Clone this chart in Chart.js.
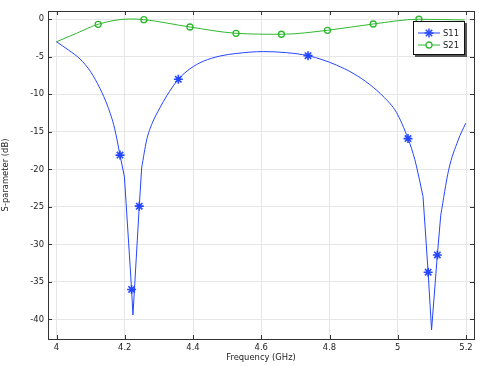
<!DOCTYPE html>
<html>
<head>
<meta charset="utf-8">
<script src="https://cdn.jsdelivr.net/npm/chart.js@4"></script>
<style>
  html, body { margin: 0; padding: 0; background: #fff; }
  #wrap { position: relative; width: 479px; height: 366px; }
  #legend {
    position: absolute; left: 413px; top: 21px; width: 50px; height: 32px;
    border: 1px solid #111; background: #fff; box-shadow: 2px 2px 0 #555;
    font-family: "DejaVu Sans", sans-serif; font-size: 8.4px; color: #222;
  }
  .item { position: absolute; left: 4px; height: 10px; display: flex; align-items: center; }
  .item span { margin-left: 3px; }
</style>
</head>
<body>
<div id="wrap">
  <canvas id="c" width="479" height="366"></canvas>
  <div id="legend">
    <div class="item" style="top:6px">
      <svg width="22" height="10"><line x1="0" y1="5" x2="22" y2="5" stroke="#2546ff" stroke-width="1"/>
        <g stroke="#2546ff" stroke-width="1.5"><line x1="11" y1="0.5" x2="11" y2="9.5"/><line x1="6.5" y1="5" x2="15.5" y2="5"/><line x1="7.8" y1="1.8" x2="14.2" y2="8.2"/><line x1="7.8" y1="8.2" x2="14.2" y2="1.8"/></g></svg>
      <span>S11</span>
    </div>
    <div class="item" style="top:18px">
      <svg width="22" height="10"><line x1="0" y1="5" x2="22" y2="5" stroke="#2fb82f" stroke-width="1"/>
        <circle cx="11" cy="5" r="3" fill="#fff" stroke="#2fb82f" stroke-width="1.3"/></svg>
      <span>S21</span>
    </div>
  </div>
</div>
<script>
// ---- data ----
const xTicks = [4, 4.2, 4.4, 4.6, 4.8, 5, 5.2];
const yTicks = [0, -5, -10, -15, -20, -25, -30, -35, -40];

const freqS11 = [4.000, 4.035, 4.069, 4.100, 4.127, 4.150, 4.170, 4.186, 4.199, 4.220, 4.224, 4.2425, 4.2495, 4.264, 4.280, 4.303, 4.323, 4.357, 4.391, 4.430, 4.479, 4.528, 4.606, 4.674, 4.737, 4.781, 4.820, 4.869, 4.918, 4.960, 4.996, 5.030, 5.050, 5.074, 5.089, 5.099, 5.116, 5.126, 5.149, 5.177, 5.199];
const s11 = [-3.0, -4.1, -5.3, -7.0, -9.2, -11.6, -14.5, -18.1, -21.0, -36.0, -39.4, -24.9, -19.8, -16.1, -13.9, -11.8, -10.2, -8.0, -6.6, -5.6, -4.9, -4.55, -4.31, -4.45, -4.85, -5.42, -6.1, -7.2, -8.7, -10.4, -12.4, -15.9, -18.7, -23.6, -33.7, -41.4, -31.4, -26.1, -20.1, -16.1, -13.85];
const markerFreqS11 = [4.186, 4.220, 4.2425, 4.357, 4.737, 5.030, 5.089, 5.116];
// frequency ranges of the resonance dips, drawn with straight segments
const dipRangesS11 = [[4.199, 4.2495], [5.074, 5.126]];

const freqS21 = [4.000, 4.059, 4.122, 4.215, 4.256, 4.391, 4.526, 4.659, 4.794, 4.928, 5.062, 5.196];
const s21 = [-3.0, -1.86, -0.67, 0.04, -0.05, -1.03, -1.87, -2.0, -1.47, -0.63, 0.0, -0.1];
const markerFreqS21 = [4.122, 4.256, 4.391, 4.526, 4.659, 4.794, 4.928, 5.062];

const BLUE = '#2546ff', GREEN = '#2fb82f';
const FONT = { family: '"DejaVu Sans", sans-serif', size: 8.4 };

const inDip = f => dipRangesS11.some(([a, b]) => f >= a && f <= b);
const inDipStrict = f => dipRangesS11.some(([a, b]) => f > a && f < b);

const frame = {
  id: 'frame',
  afterDatasetsDraw(chart) {
    const { ctx, chartArea: a, scales } = chart;
    ctx.save();
    ctx.strokeStyle = '#333';
    ctx.lineWidth = 1;
    ctx.beginPath();
    const L = 4;
    xTicks.forEach(v => {
      const px = Math.round(scales.x.getPixelForValue(v)) + 0.5;
      ctx.moveTo(px, a.bottom); ctx.lineTo(px, a.bottom - L);
      ctx.moveTo(px, a.top); ctx.lineTo(px, a.top + L);
    });
    yTicks.forEach(v => {
      const py = Math.round(scales.y.getPixelForValue(v)) + 0.5;
      ctx.moveTo(a.left, py); ctx.lineTo(a.left + L, py);
      ctx.moveTo(a.right, py); ctx.lineTo(a.right - L, py);
    });
    ctx.stroke();
    ctx.strokeRect(Math.round(a.left) + 0.5, Math.round(a.top) + 0.5, Math.round(a.right - a.left), Math.round(a.bottom - a.top));
    ctx.restore();
  }
};

const s11Style = {
  borderColor: BLUE, borderWidth: 1,
  pointStyle: 'star', pointBorderColor: BLUE, pointBorderWidth: 1.6, pointBackgroundColor: BLUE,
  pointHoverRadius: 0
};

new Chart(document.getElementById('c'), {
  type: 'line',
  data: {
    datasets: [
      Object.assign({
        label: 'S11',
        data: freqS11.map((f, i) => ({ x: f, y: inDipStrict(f) ? null : s11[i] })),
        cubicInterpolationMode: 'monotone', spanGaps: false,
        pointRadius: freqS11.map(f => (markerFreqS11.includes(f) && !inDip(f)) ? 4.5 : 0)
      }, s11Style),
      Object.assign({
        label: 'S11 dips',
        data: freqS11.map((f, i) => ({ x: f, y: inDip(f) ? s11[i] : null })),
        tension: 0, spanGaps: false,
        pointRadius: freqS11.map(f => (markerFreqS11.includes(f) && inDip(f)) ? 4.5 : 0)
      }, s11Style),
      {
        label: 'S21',
        data: freqS21.map((f, i) => ({ x: f, y: s21[i] })),
        borderColor: GREEN, borderWidth: 1, cubicInterpolationMode: 'monotone',
        pointStyle: 'circle',
        pointRadius: freqS21.map(f => markerFreqS21.includes(f) ? 3 : 0),
        pointBorderColor: GREEN, pointBorderWidth: 1.3, pointBackgroundColor: 'rgba(255,255,255,0)',
        pointHoverRadius: 0
      }
    ]
  },
  options: {
    responsive: false, animation: false, devicePixelRatio: 1,
    layout: { padding: { top: 11, right: 5, left: 0, bottom: 0 } },
    plugins: { legend: { display: false }, tooltip: { enabled: false } },
    scales: {
      x: {
        type: 'linear', min: 3.975, max: 5.2234,
        afterBuildTicks: s => { s.ticks = xTicks.map(v => ({ value: v })); },
        afterFit: s => { s.height = 27; },
        grid: { color: '#e6e6e6', drawTicks: false },
        border: { display: true, color: '#333' },
        ticks: { font: FONT, color: '#222', padding: 4, maxRotation: 0, callback: v => String(v) },
        title: { display: true, text: 'Frequency (GHz)', font: FONT, color: '#222', padding: { top: 0, bottom: 3 } }
      },
      y: {
        type: 'linear', min: -42.6, max: 1.1,
        afterBuildTicks: s => { s.ticks = yTicks.map(v => ({ value: v })); },
        afterFit: s => { s.width = 48; },
        grid: { color: '#e6e6e6', drawTicks: false },
        border: { display: true, color: '#333' },
        ticks: { font: FONT, color: '#222', padding: 4, callback: v => String(v) },
        title: { display: true, text: 'S-parameter (dB)', font: FONT, color: '#222', padding: { top: 1, bottom: 0 } }
      }
    }
  },
  plugins: [frame]
});
</script>
</body>
</html>
